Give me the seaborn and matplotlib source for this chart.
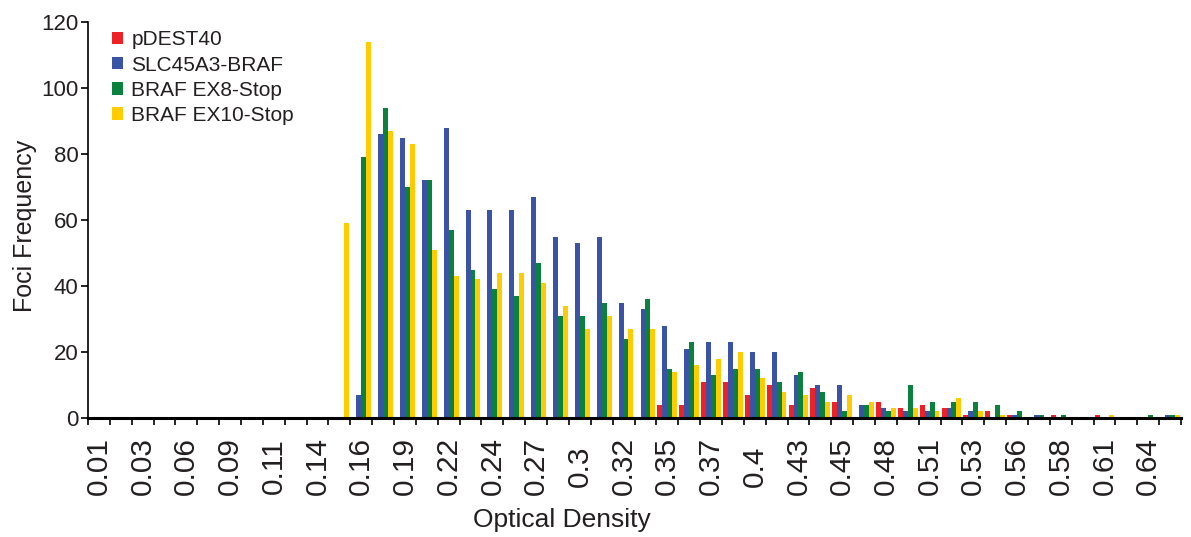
import numpy as np
import pandas as pd
import seaborn as sns
import matplotlib.pyplot as plt

# bins (50 optical-density classes), only every other one is labelled
bin_ids = list(range(50))
tick_labels = ['0.01', '0.03', '0.06', '0.09', '0.11', '0.14', '0.16', '0.19',
               '0.22', '0.24', '0.27', '0.3', '0.32', '0.35', '0.37', '0.4',
               '0.43', '0.45', '0.48', '0.51', '0.53', '0.56', '0.58', '0.61', '0.64']

series_names = ['pDEST40', 'SLC45A3-BRAF', 'BRAF EX8-Stop', 'BRAF EX10-Stop']
series_colors = ['#ec2227', '#3a53a4', '#0b8140', '#ffcc00']

pdest40 = [0] * 26 + [4, 4, 11, 11, 7, 10, 4, 9, 5, 0, 5, 3, 4, 3, 1, 2, 1, 0, 1, 0, 1, 0, 0, 0]
slc45a3_braf = [0] * 12 + [7, 86, 85, 72, 88, 63, 63, 63, 67, 55, 53, 55, 35, 33, 28, 21, 23, 23,
                           20, 20, 13, 10, 10, 4, 3, 2, 2, 3, 2, 0, 1, 1, 0, 0, 0, 0, 0, 1]
braf_ex8 = [0] * 12 + [79, 94, 70, 72, 57, 45, 39, 37, 47, 31, 31, 35, 24, 36, 15, 23, 13, 15,
                       15, 11, 14, 8, 2, 4, 2, 10, 5, 5, 5, 4, 2, 1, 1, 0, 0, 0, 1, 1]
braf_ex10 = [0] * 11 + [59, 114, 87, 83, 51, 43, 42, 44, 44, 41, 34, 27, 31, 27, 27, 14, 16, 18, 20,
                        12, 8, 7, 5, 7, 5, 3, 3, 2, 6, 2, 1, 0, 0, 0, 0, 1, 0, 0, 1]

frames = []
for name, vals in zip(series_names, [pdest40, slc45a3_braf, braf_ex8, braf_ex10]):
    frames.append(pd.DataFrame({'bin': bin_ids, 'count': vals, 'series': name}))
df = pd.concat(frames, ignore_index=True)

sns.set_style('ticks')
plt.rcParams['font.family'] = ['Liberation Sans', 'DejaVu Sans']
txt = '#231f20'

fig = plt.figure(figsize=(11.91, 5.37), dpi=100)
ax = fig.add_axes([88 / 1191, 119 / 537, 1093 / 1191, 396 / 537])

sns.barplot(data=df, x='bin', y='count', hue='series', hue_order=series_names,
            palette=series_colors, saturation=1, width=0.9, linewidth=0,
            errorbar=None, order=bin_ids, ax=ax)

ax.set_xlim(-0.5, 49.5)
ax.set_ylim(0, 120)
ax.set_yticks(range(0, 121, 20))
ax.tick_params(axis='y', labelsize=16, colors='black', labelcolor=txt,
               length=5, width=1.2, direction='out', pad=2)

# labels on even bins (centred along their length), tick marks at bin boundaries
ax.set_xticks(np.arange(0, 50, 2))
ax.set_xticklabels(tick_labels, rotation=90, fontsize=21.5, color=txt,
                   ha='center', va='center', rotation_mode='anchor')
ax.tick_params(axis='x', which='major', length=0, pad=34.5)
ax.set_xticks(np.arange(-0.5, 50, 1), minor=True)
ax.tick_params(axis='x', which='minor', length=5, width=1.2, direction='out', color='black')

ax.set_xlabel('Optical Density', fontsize=19, color=txt, va='center')
ax.xaxis.set_label_coords(0.434, -0.258)
ax.set_ylabel('Foci Frequency', fontsize=18, color=txt)
ax.yaxis.set_label_coords(-0.047, 0.485)

sns.despine(ax=ax)
ax.spines['bottom'].set_linewidth(2.2)
ax.spines['left'].set_linewidth(1.2)
ax.spines['bottom'].set_color('black')
ax.spines['left'].set_color('black')

handles, labels = ax.get_legend_handles_labels()
ax.legend(handles, labels, loc='upper left', bbox_to_anchor=(0.014, 1.0),
          frameon=False, fontsize=15, handlelength=0.55, handleheight=0.55,
          handletextpad=0.4, labelspacing=0.3, borderaxespad=0, labelcolor=txt)

fig.savefig('out.png', dpi=100)
